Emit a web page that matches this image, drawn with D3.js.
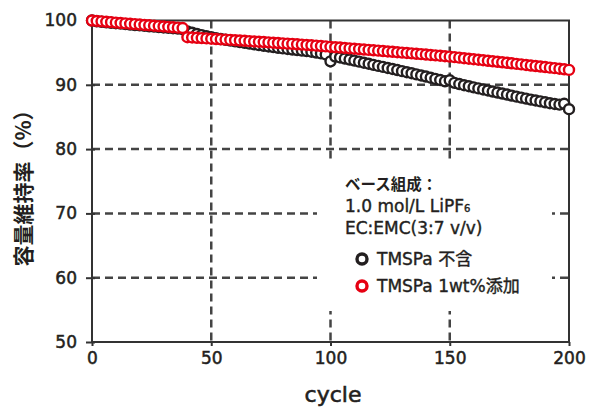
<!DOCTYPE html>
<html><head><meta charset="utf-8">
<script src="https://cdn.jsdelivr.net/npm/d3@7"></script>
<style>body{margin:0;background:#fff}svg{display:block}</style>
</head><body>
<svg id="c" width="598" height="407"></svg>
<script>
const cycles = [0,2,4,6,8,10,12,14,16,18,20,22,24,26,28,30,32,34,36,38,40,42,44,46,48,50,52,54,56,58,60,62,64,66,68,70,72,74,76,78,80,82,84,86,88,90,92,94,96,98,100,102,104,106,108,110,112,114,116,118,120,122,124,126,128,130,132,134,136,138,140,142,144,146,148,150,152,154,156,158,160,162,164,166,168,170,172,174,176,178,180,182,184,186,188,190,192,194,196,198,200];
const blackValues = [100.0,99.88,99.80,99.72,99.65,99.58,99.51,99.44,99.37,99.30,99.24,99.17,99.10,99.04,98.98,98.92,98.86,98.80,98.74,98.66,98.30,98.10,97.90,97.72,97.55,97.40,97.25,97.12,97.00,96.88,96.76,96.64,96.52,96.40,96.28,96.17,96.06,95.96,95.86,95.76,95.66,95.57,95.48,95.40,95.32,95.24,95.15,95.02,94.88,94.72,93.65,94.40,94.25,94.08,93.92,93.76,93.60,93.44,93.28,93.10,92.94,92.78,92.62,92.46,92.30,92.12,91.96,91.80,91.62,91.45,91.28,91.10,90.92,90.74,90.55,90.70,90.30,90.12,89.94,89.78,89.60,89.44,89.28,89.12,88.95,88.80,88.64,88.48,88.32,88.16,88.00,87.85,87.70,87.56,87.42,87.28,87.14,87.02,86.92,87.05,86.20];
const redValues = [100.0,99.93,99.87,99.80,99.74,99.67,99.61,99.55,99.49,99.43,99.37,99.31,99.25,99.19,99.13,99.07,99.01,98.95,98.89,98.83,97.40,97.36,97.31,97.26,97.22,97.17,97.12,97.07,97.03,96.98,96.93,96.89,96.84,96.79,96.74,96.70,96.65,96.60,96.55,96.50,96.45,96.40,96.36,96.30,96.25,96.20,96.14,96.09,96.03,95.97,95.90,95.85,95.79,95.73,95.67,95.61,95.55,95.49,95.43,95.37,95.31,95.25,95.19,95.13,95.07,95.01,94.95,94.89,94.83,94.77,94.71,94.64,94.58,94.52,94.45,94.38,94.30,94.22,94.14,94.06,93.98,93.90,93.82,93.74,93.66,93.58,93.50,93.42,93.34,93.25,93.17,93.09,93.00,92.92,92.84,92.76,92.67,92.59,92.50,92.41,92.32];
const xTicks = [0,50,100,150,200];
const yTicks = [50,60,70,80,90,100];
const seriesNames = ["TMSPa 不含","TMSPa 1wt%添加"];
const seriesColors = ["#231f20","#e60012"];
const noteLines = ["ベース組成：","1.0 mol/L LiPF","EC:EMC(3:7 v/v)"];

const svg = d3.select("#c");
const L=92, R=569, T=20.5, B=342;
const x = d3.scaleLinear().domain([0,200]).range([L,R]);
const y = d3.scaleLinear().domain([50,100]).range([B,T]);
const font = "'DejaVu Sans','Noto Sans CJK JP',sans-serif";
const jfont = "'Noto Sans CJK JP',sans-serif";
const txt = "#231f20";
function heavy(sel,w){ sel.attr("stroke",txt).attr("stroke-width",w).attr("paint-order","stroke"); }

// gridlines
const g = svg.append("g");
g.selectAll("line.vg").data(xTicks.filter(d=>d>0&&d<200)).join("line")
  .attr("x1",d=>x(d)).attr("x2",d=>x(d)).attr("y1",T).attr("y2",B)
  .attr("stroke","#444").attr("stroke-width",2.5).attr("stroke-dasharray","8,5");
g.selectAll("line.hg").data(yTicks.filter(d=>d>50&&d<100)).join("line")
  .attr("x1",L).attr("x2",R).attr("y1",d=>y(d)).attr("y2",d=>y(d))
  .attr("stroke","#444").attr("stroke-width",2.5).attr("stroke-dasharray","8,5");

// legend background
svg.append("rect").attr("x",317).attr("y",163).attr("width",235).attr("height",148).attr("fill","#fff");

// axes
const ya = svg.append("g").attr("transform",`translate(${L},0)`)
  .call(d3.axisLeft(y).tickValues(yTicks).tickSize(6).tickPadding(9));
ya.select(".domain").remove();
ya.selectAll(".tick line").attr("stroke","#333").attr("stroke-width",2).attr("x2",-6).attr("x1",3);
ya.selectAll(".tick text").attr("font-family",font).attr("font-size",17).attr("fill",txt).call(heavy,0.5);

const xa = svg.append("g").attr("transform",`translate(0,${B})`)
  .call(d3.axisBottom(x).tickValues(xTicks).tickSize(4).tickPadding(6));
xa.select(".domain").remove();
xa.selectAll(".tick line").attr("stroke","#333").attr("stroke-width",2);
xa.selectAll(".tick text").attr("font-family",font).attr("font-size",17).attr("fill",txt).call(heavy,0.5);

// frame
svg.append("rect").attr("x",L).attr("y",T).attr("width",R-L).attr("height",B-T)
  .attr("fill","none").attr("stroke","#333").attr("stroke-width",2);

// series
function drawSeries(vals,color){
  svg.append("g").selectAll("circle").data(cycles.map((c,i)=>[c,vals[i]])).join("circle")
    .attr("cx",d=>x(d[0])).attr("cy",d=>y(d[1])).attr("r",5)
    .attr("fill","#fff").attr("stroke",color).attr("stroke-width",2.4);
}
drawSeries(blackValues,seriesColors[0]);
drawSeries(redValues,seriesColors[1]);

// axis titles
svg.append("text").attr("x",333).attr("y",402).attr("text-anchor","middle")
  .attr("font-family",font).attr("font-size",22).attr("fill",txt).text("cycle").call(heavy,0.6);
svg.append("text").attr("transform","translate(31,183) rotate(-90)").attr("text-anchor","middle")
  .attr("font-family",jfont).attr("font-size",21).attr("font-weight",700).attr("fill",txt).text("容量維持率（%）");

// note
const nb=[190,212,233.5];
noteLines.forEach((t,i)=>{
  const te = svg.append("text").attr("x",345).attr("y",nb[i])
    .attr("font-family",i===0?jfont:font)
    .attr("font-size",i===0?15.5:17).attr("font-weight",i===0?700:400).attr("fill",txt).text(t);
  if(i>0) te.call(heavy,0.4);
  if(i===1) te.append("tspan").attr("font-size",10).attr("dy",-0.5).text("6");
});

// legend
const ly=[259,286];
seriesNames.forEach((n,i)=>{
  svg.append("circle").attr("cx",362).attr("cy",ly[i]).attr("r",5).attr("fill","#fff")
    .attr("stroke",seriesColors[i]).attr("stroke-width",3.4);
  svg.append("text").attr("x",377).attr("y",ly[i]+6).attr("font-family",font)
    .attr("font-size",17).attr("fill",txt).text(n).call(heavy,0.4);
});
</script>
</body></html>
